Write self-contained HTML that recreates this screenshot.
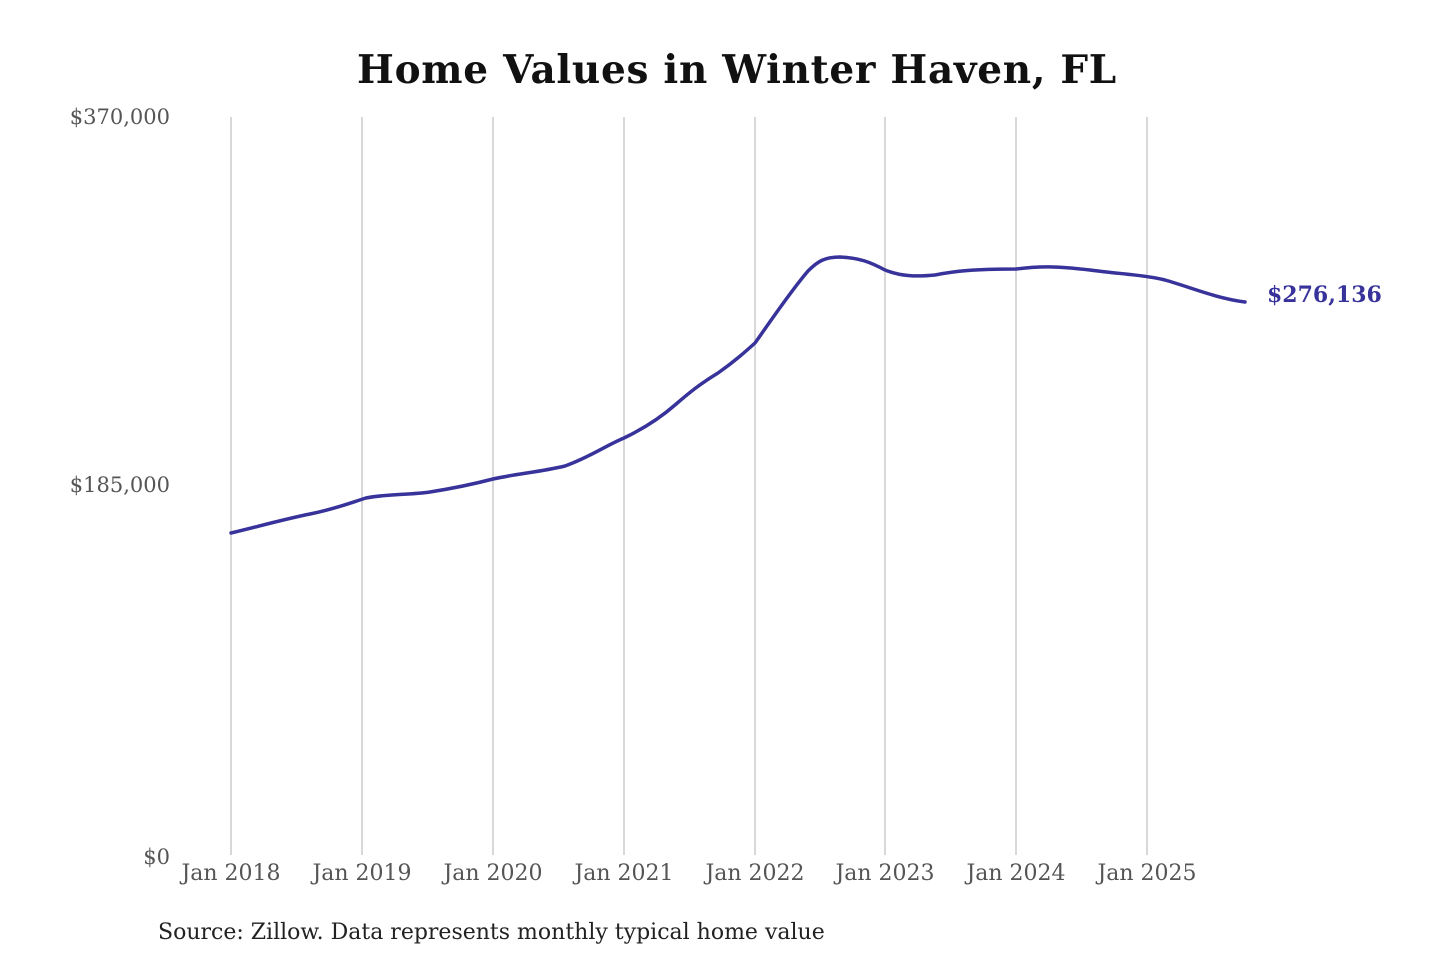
<!DOCTYPE html>
<html><head><meta charset="utf-8"><style>
html,body{margin:0;padding:0;background:#fff;}
svg{display:block;}
</style></head><body>
<svg width="1440" height="960" viewBox="0 0 1440 960" xmlns="http://www.w3.org/2000/svg" font-family="'DejaVu Serif','Liberation Serif',serif">
<rect width="1440" height="960" fill="#fff"/>
<text x="737" y="83" text-anchor="middle" font-size="39" font-weight="bold" letter-spacing="0.7" fill="#111">Home Values in Winter Haven, FL</text>
<g stroke="#c4c4c4" stroke-width="1.3">
<line x1="231" y1="117" x2="231" y2="855"/>
<line x1="362" y1="117" x2="362" y2="855"/>
<line x1="493" y1="117" x2="493" y2="855"/>
<line x1="624" y1="117" x2="624" y2="855"/>
<line x1="755" y1="117" x2="755" y2="855"/>
<line x1="885" y1="117" x2="885" y2="855"/>
<line x1="1016" y1="117" x2="1016" y2="855"/>
<line x1="1147" y1="117" x2="1147" y2="855"/>
</g>
<g font-size="21" fill="#555">
<text x="170" y="124" text-anchor="end">$370,000</text>
<text x="170" y="492" text-anchor="end">$185,000</text>
<text x="170" y="864" text-anchor="end">$0</text>
</g>
<g font-size="22" fill="#555" text-anchor="middle">
<text x="231" y="880">Jan 2018</text>
<text x="362" y="880">Jan 2019</text>
<text x="493" y="880">Jan 2020</text>
<text x="624" y="880">Jan 2021</text>
<text x="755" y="880">Jan 2022</text>
<text x="885" y="880">Jan 2023</text>
<text x="1016" y="880">Jan 2024</text>
<text x="1147" y="880">Jan 2025</text>
</g>
<path fill="none" stroke="#38339a" stroke-width="3.5" stroke-linejoin="round" stroke-linecap="round"
d="M231,533 C260,526 285,519 310,514 C335,509 350,503 366,498 C385,494 410,495 430,492 C455,488 470,485 493,479 C515,474 540,472 565,466 C590,457 605,446 624,438 C645,428 660,418 675,405 C690,392 700,384 718,373 C735,361 745,352 755,343 C770,322 790,292 808,271 C818,261 825,257 840,257 C860,258 870,262 885,270 C900,276 915,277 935,275 C955,271 975,269 1016,269 C1040,266 1055,266 1090,270 C1120,274 1145,275 1165,280 C1190,287 1215,298 1245,302"/>
<text x="1267" y="302" font-size="22" font-weight="bold" fill="#38339a">$276,136</text>
<text x="158" y="939" font-size="22" fill="#222">Source: Zillow. Data represents monthly typical home value</text>
</svg>
</body></html>
